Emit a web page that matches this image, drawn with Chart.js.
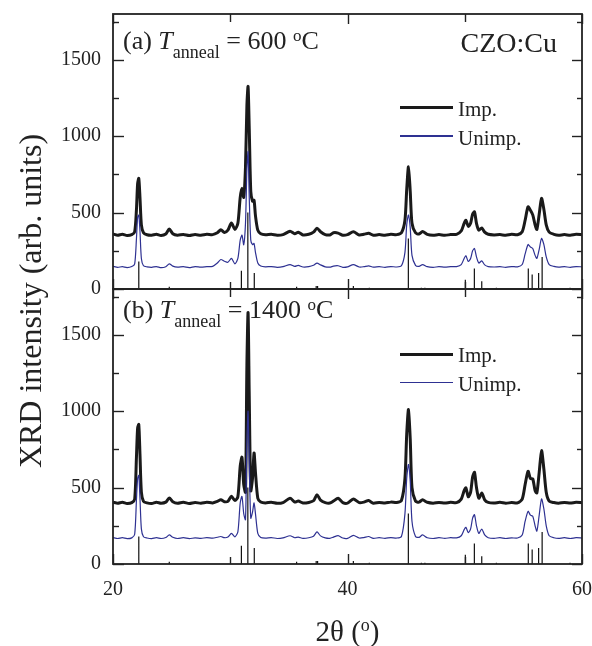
<!DOCTYPE html>
<html>
<head>
<meta charset="utf-8">
<script src="https://cdn.jsdelivr.net/npm/chart.js@4.4.0/dist/chart.umd.min.js"></script>
<style>
  html, body { margin:0; padding:0; background:#fff; }
  body { width:592px; height:646px; position:relative; overflow:hidden; font-family:"Liberation Serif","DejaVu Serif",serif; color:#222; }
  canvas { position:absolute; left:0; display:block; }
  .t { position:absolute; white-space:nowrap; }
  .r { position:relative; }
  .leg { position:absolute; left:400px; width:53px; }
</style>
</head>
<body>
<canvas id="ca" width="592" height="300" style="top:0;width:592px;height:300px"></canvas>
<canvas id="cb" width="592" height="367" style="top:279px;width:592px;height:367px"></canvas>

<!-- panel (a) annotations -->
<div class="t" style="left:123px;top:27.7px;font-size:26px;line-height:26px">(a) <i>T</i><span class="r" style="font-size:18px;top:9px">anneal</span> = 600 <span class="r" style="font-size:17px;top:-8px">o</span>C</div>
<div class="t" style="right:35px;top:28.5px;font-size:28px;line-height:28px">CZO:Cu</div>
<div class="leg" style="top:105.5px;height:3px;background:#1a1a1a"></div>
<div class="leg" style="top:135.3px;height:1.3px;background:#2e3192"></div>
<div class="t" style="left:458px;top:99.4px;font-size:21px;line-height:21px">Imp.</div>
<div class="t" style="left:458px;top:128.1px;font-size:21px;line-height:21px">Unimp.</div>

<!-- panel (b) annotations -->
<div class="t" style="left:123px;top:296.7px;font-size:26px;line-height:26px">(b) <i>T</i><span class="r" style="font-size:18px;top:9px">anneal</span> = 1400 <span class="r" style="font-size:17px;top:-8px">o</span>C</div>
<div class="leg" style="top:352.5px;height:3px;background:#1a1a1a"></div>
<div class="leg" style="top:382px;height:1.3px;background:#2e3192"></div>
<div class="t" style="left:458px;top:345.4px;font-size:21px;line-height:21px">Imp.</div>
<div class="t" style="left:458px;top:374.1px;font-size:21px;line-height:21px">Unimp.</div>

<!-- axis titles -->
<div class="t" style="left:247.5px;width:200px;text-align:center;top:616.7px;font-size:29px;line-height:29px">2θ (<span class="r" style="font-size:18px;top:-10px">o</span>)</div>
<div class="t" style="left:-170px;width:400px;text-align:center;top:285px;font-size:32px;line-height:32px;transform:rotate(-90deg)">XRD intensity (arb. units)</div>

<script>
// ---------------- data ----------------
const twoTheta = [20.0,20.4,20.8,21.2,21.6,21.85,22.0,22.1,22.2,22.3,22.42,22.6,22.9,23.3,23.7,24.1,24.5,24.8,25.1,25.5,
  26.0,26.5,27.0,27.5,28.0,28.5,28.9,29.2,29.5,29.8,30.1,30.4,30.65,30.85,31.0,31.15,31.3,31.42,31.52,31.62,
  31.75,31.9,32.03,32.15,32.35,32.6,33.0,33.5,34.0,34.5,35.1,35.5,35.8,36.2,36.7,37.1,37.4,37.7,38.1,38.5,
  38.8,39.2,39.6,40.0,40.5,41.0,41.4,41.8,42.2,42.7,43.2,43.7,44.2,44.6,44.9,45.05,45.2,45.35,45.5,45.8,
  46.1,46.4,46.8,47.3,47.8,48.3,48.8,49.3,49.7,49.95,50.1,50.3,50.5,50.67,50.83,51.0,51.2,51.45,51.7,52.0,
  52.5,53.0,53.5,54.0,54.5,54.9,55.15,55.4,55.6,55.8,56.0,56.15,56.35,56.55,56.75,56.95,57.2,57.6,58.0,58.5,
  59.0,59.5,60.0];

const impA = [360,352,358,350,356,375,520,690,724,600,420,368,355,352,358,350,360,392,362,352,
  357,350,356,352,358,356,368,388,370,385,432,390,430,600,660,600,800,1200,1325,1050,
  640,575,580,480,385,362,355,358,352,356,378,362,372,354,358,372,398,375,356,354,
  368,366,352,356,374,354,358,365,352,356,352,358,356,368,450,650,800,640,430,368,
  360,376,358,352,356,352,356,358,380,430,450,410,430,490,505,430,385,400,372,358,
  354,356,352,358,355,375,450,538,515,485,420,390,490,593,520,420,372,358,352,356,
  352,358,355];

const unimpA = [148,142,146,140,147,165,330,470,484,380,200,152,145,142,147,140,146,165,150,143,
  146,140,147,143,146,148,170,193,182,175,200,165,200,320,352,290,430,780,899,600,
  320,290,298,240,170,150,145,147,142,146,160,148,155,144,146,155,170,158,145,143,
  150,152,142,145,160,144,146,152,143,146,142,147,144,152,240,420,484,400,220,155,
  148,160,146,142,146,143,146,147,160,200,217,180,200,250,265,210,170,184,158,147,
  144,146,142,147,145,160,230,291,275,265,220,200,260,331,290,210,160,148,143,146,
  142,147,145];

const impB = [405,398,404,396,402,425,700,890,913,720,470,410,400,396,404,398,405,432,408,398,
  404,396,402,398,404,400,410,420,408,410,443,415,440,640,699,520,470,1300,1645,1100,
  480,560,727,600,430,406,400,404,397,402,430,406,412,399,403,414,454,418,402,399,
  412,430,402,398,426,402,405,415,398,403,399,405,402,415,560,850,1011,820,500,412,
  405,420,404,398,403,399,404,402,425,480,498,440,470,570,600,500,430,465,420,403,
  399,404,398,402,400,425,520,607,560,557,480,465,600,742,620,470,412,402,398,403,
  399,404,401];

const unimpB = [173,167,172,166,171,195,420,560,580,430,230,178,170,166,172,167,173,190,175,167,
  172,166,171,168,172,169,175,180,172,176,200,178,210,400,443,330,290,800,1000,650,
  300,340,400,330,200,174,170,173,167,171,185,172,176,168,172,182,210,184,171,168,
  176,186,170,168,188,170,173,180,168,172,168,173,170,180,330,560,651,540,280,180,
  174,190,172,167,172,168,172,171,185,225,240,205,230,300,323,250,200,229,190,172,
  168,172,167,171,170,190,280,345,320,312,250,215,320,426,360,250,185,172,168,172,
  167,172,170];

// reference pattern (stick) positions and heights
const stickPos    = [22.2, 24.8, 30.95, 31.5, 32.05, 35.66, 37.33, 37.45, 40.5, 41.86, 45.19, 46.3, 46.6, 50.05, 50.82, 51.45, 52.7, 55.42, 55.75, 56.3, 56.6, 58.98];
const stickHeight = [180,  15,   120,   500,  105,   15,    20,    20,    20,   8,     330,   8,    8,    60,    134,   50,    8,    135,   95,    105,  210,  8];

// axes ticks
const xLabelTicks = [20, 40, 60];
const xMinorTicks = [30, 50];
const yLabelTicks = [0, 500, 1000, 1500];
const yMinorTicks = [250, 750, 1250, 1750];
const yMin = 0, yMax = 1800, xMin = 20, xMax = 60;

// ---------------- drawing ----------------
const INK = '#222';
const BLUE = '#2e3192';
const FONT = {family: '"Liberation Serif", "DejaVu Serif", serif', size: 20};

function pts(ys){ return twoTheta.map((x,i)=>({x, y: ys[i]})); }
function sticks(){ return stickPos.flatMap((p,i)=>[{x:p,y:0},{x:p,y:stickHeight[i]},{x:p,y:null}]); }

const frameTicks = {
  id: 'frameTicks',
  afterDatasetsDraw(chart){
    const {ctx, chartArea:a, scales:{x, y}} = chart;
    ctx.save();
    ctx.strokeStyle = INK;
    ctx.lineWidth = 1.8;
    ctx.strokeRect(a.left, a.top, a.right - a.left, a.bottom - a.top);
    ctx.lineWidth = 1.4;
    const seg = (x1,y1,x2,y2)=>{ ctx.beginPath(); ctx.moveTo(x1,y1); ctx.lineTo(x2,y2); ctx.stroke(); };
    yLabelTicks.forEach(v=>{ const p = Math.round(y.getPixelForValue(v))+0.5; seg(a.left,p,a.left+11,p); seg(a.right,p,a.right-10,p); });
    yMinorTicks.forEach(v=>{ const p = Math.round(y.getPixelForValue(v))+0.5; seg(a.left,p,a.left+6,p); seg(a.right,p,a.right-5,p); });
    xLabelTicks.forEach(v=>{ const p = Math.round(x.getPixelForValue(v))+0.5; seg(p,a.bottom,p,a.bottom-10); seg(p,a.top,p,a.top+10); });
    xMinorTicks.forEach(v=>{ const p = Math.round(x.getPixelForValue(v))+0.5; seg(p,a.bottom,p,a.bottom-7); seg(p,a.top,p,a.top+8); });
    ctx.restore();
  }
};

function makeChart(id, imp, unimp, bottomPanel){
  return new Chart(document.getElementById(id), {
    type: 'line',
    data: {
      datasets: [
        {label:'ref', data: sticks(), borderColor:'#111', borderWidth:1.2, pointRadius:0, spanGaps:false, order:0},
        {label:'Unimp.', data: pts(unimp), borderColor:BLUE, borderWidth:1.2, pointRadius:0, tension:0.25, order:1},
        {label:'Imp.', data: pts(imp), borderColor:'#1a1a1a', borderWidth:3, pointRadius:0, tension:0.25, order:2}
      ]
    },
    options: {
      responsive: false,
      maintainAspectRatio: false,
      devicePixelRatio: 1,
      animation: false,
      events: [],
      layout: { padding: bottomPanel ? {left:0, right:10, top:10, bottom:0} : {left:0, right:10, top:14, bottom:11} },
      plugins: { legend:{display:false}, tooltip:{enabled:false} },
      scales: {
        x: {
          type: 'linear', min: xMin, max: xMax,
          display: bottomPanel,
          grid: {display:false, drawTicks:false},
          border: {display:false},
          afterBuildTicks: s => { s.ticks = xLabelTicks.map(v=>({value:v})); },
          afterFit: s => { s.height = bottomPanel ? 82 : 0; s.paddingLeft = 0; s.paddingRight = 0; s.paddingTop = 0; s.paddingBottom = 0; },
          ticks: {font: FONT, color: INK, padding: 14, maxRotation: 0, callback: v => String(v)}
        },
        y: {
          type: 'linear', min: yMin, max: yMax,
          grid: {display:false, drawTicks:false},
          border: {display:false},
          afterBuildTicks: s => { s.ticks = yLabelTicks.map(v=>({value:v})); },
          afterFit: s => { s.width = 113; s.paddingTop = 0; s.paddingBottom = 0; s.paddingLeft = 0; s.paddingRight = 0; },
          ticks: {font: FONT, color: INK, padding: 12, callback: v => String(v)}
        }
      }
    },
    plugins: [frameTicks]
  });
}

makeChart('ca', impA, unimpA, false);
makeChart('cb', impB, unimpB, true);
</script>
</body>
</html>
